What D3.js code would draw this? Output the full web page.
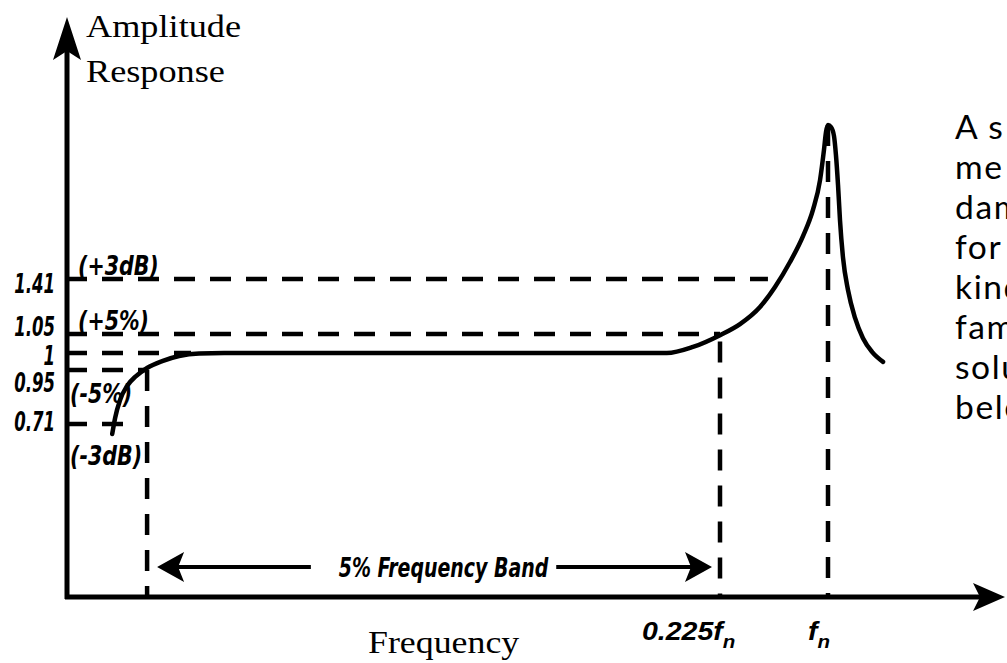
<!DOCTYPE html>
<html>
<head>
    <title>Amplitude Response</title>
    <meta charset="UTF-8">
    <script type="text/javascript" src="https://cdn.jsdelivr.net/npm/d3@7/dist/d3.min.js"></script>
    <style>
        body { margin: 0; background: #fff; }
        svg { display: block; }
        .serif { font-family: "Liberation Serif", "Times New Roman", serif; }
        .cond { font-family: "DejaVu Sans Condensed", "DejaVu Sans", sans-serif; font-weight: bold; font-style: italic; }
        .bold { font-family: "Liberation Sans", Arial, sans-serif; font-weight: bold; font-style: italic; }
        .note { font-family: Lato, "Open Sans", sans-serif; }
    </style>
</head>
<body>
<svg id="chart" width="1007" height="663"></svg>
<script type="text/javascript">

    // response curve, frequency as f/fn and amplitude ratio
    var curveFreq = [0.0159, 0.0169, 0.0186, 0.0210, 0.0241, 0.0279, 0.0331, 0.0389, 0.0458, 0.0544,
                     0.2067, 0.2157, 0.225, 0.3685, 0.512, 0.6197, 0.7273, 0.8206, 0.892, 0.943,
                     0.971, 0.9856, 1.0, 1.0215, 1.043, 1.057, 1.072, 1.086, 1.108, 1.1435,
                     1.194, 1.251, 1.316, 1.395];
    var curveAmp = [0.669, 0.737, 0.817, 0.879, 0.923, 0.956, 0.976, 0.991, 0.9985, 1.0,
                    1.0, 1.016, 1.047, 1.115, 1.227, 1.358, 1.521, 1.691, 1.862, 2.058,
                    2.254, 2.372, 2.418, 2.405, 2.346, 2.222, 2.025, 1.796, 1.547, 1.338,
                    1.155, 1.039, 1.003, 0.974];

    // amplitude levels on the left
    var yTickValues = [1.41, 1.05, 1, 0.95, 0.71];
    var yTickLabels = ["1.41", "1.05", "1", "0.95", "0.71"];
    var levelEnds = [0.569, 0.225, 0.043, 0.0279, 0.020];   // where each dashed level stops

    var levelNotes = ["(+3dB)", "(+5%)", "(-5%)", "(-3dB)"];
    var noteLevels = [1.41, 1.05, 0.95, 0.71];

    // vertical markers
    var markFreq = [0.0279, 0.225, 1];
    var markTop = [0.95, 1.03, 2.418];
    var xTickValues = [0.225, 1];
    var xTickLabels = ["0.225f", "f"];

    var bandLabel = "5% Frequency Band";
    var bandAmp = 0.123;

    var sideText = ["A s", "me", "dam", "for", "kind", "fam", "solu", "belo"];

    var svg = d3.select("#chart");

    // schematic (piecewise) scales
    var x = d3.scaleLinear().domain([0, 0.225, 1]).range([66, 720, 828]);
    var y = d3.scaleLinear().domain([0, 0.71, 0.95, 1, 1.05, 1.41]).range([597, 424, 370, 353, 334, 279]);

    function put(sel, px, py, txt, cls, size, sx, anchor) {
        return sel.append("text")
                .attr("class", cls)
                .attr("transform", "translate(" + px + "," + py + ") scale(" + (sx || 1) + ",1)")
                .attr("font-size", size)
                .attr("text-anchor", anchor || "start")
                .text(txt);
    }

    function arrowHead(sel, px, py, angle, len, half, notch) {
        sel.append("path")
                .attr("d", "M0,0L" + (-len) + "," + (-half) + "L" + (-len + notch) + ",0L" + (-len) + "," + half + "Z")
                .attr("transform", "translate(" + px + "," + py + ") rotate(" + angle + ")")
                .attr("fill", "#000");
    }

    // dashed level lines
    svg.selectAll("line.level")
            .data(yTickValues)
            .enter()
            .append("line")
            .attr("class", "level")
            .attr("x1", x(0))
            .attr("x2", function (d, i) { return x(levelEnds[i]); })
            .attr("y1", function (d) { return y(d); })
            .attr("y2", function (d) { return y(d); })
            .attr("stroke", "#000")
            .attr("stroke-width", 4.5)
            .attr("stroke-dasharray", "21,15");

    // dashed vertical markers
    svg.selectAll("line.mark")
            .data(markFreq)
            .enter()
            .append("line")
            .attr("class", "mark")
            .attr("x1", function (d) { return x(d); })
            .attr("x2", function (d) { return x(d); })
            .attr("y1", function (d, i) { return y(markTop[i]); })
            .attr("y2", y(0))
            .attr("stroke", "#000")
            .attr("stroke-width", 4.5)
            .attr("stroke-dasharray", "21,15");

    // axes
    var x0 = 67, y0 = y(0);
    svg.append("line").attr("x1", x0).attr("x2", x0).attr("y1", y0 + 2).attr("y2", 40)
            .attr("stroke", "#000").attr("stroke-width", 5);
    arrowHead(svg, x0, 17, -90, 43, 14, 9);
    svg.append("line").attr("x1", x0 - 2).attr("x2", 985).attr("y1", y0).attr("y2", y0)
            .attr("stroke", "#000").attr("stroke-width", 5);
    arrowHead(svg, 1005, y0, 0, 32, 14, 7);

    // response curve
    var line = d3.line()
            .x(function (d) { return x(d[0]); })
            .y(function (d) { return y(d[1]); })
            .curve(d3.curveMonotoneX);

    svg.append("path")
            .datum(d3.zip(curveFreq, curveAmp))
            .attr("d", line)
            .attr("fill", "none")
            .attr("stroke", "#000")
            .attr("stroke-width", 4.5)
            .attr("stroke-linecap", "round");

    // tick labels on the left
    var tickDy = [14, 2, 12, 22, 7];
    yTickValues.forEach(function (v, i) {
        put(svg, 55, y(v) + tickDy[i], yTickLabels[i], "cond", 27, 0.68, "end");
    });

    var noteX = [78, 78, 70, 70];
    var noteDy = [-4, -4, 33, 41];
    noteLevels.forEach(function (v, i) {
        put(svg, noteX[i], y(v) + noteDy[i], levelNotes[i], "cond", 26, 0.88);
    });

    // frequency band arrow
    var by = y(bandAmp);
    var bl = x(markFreq[0]) + 10, br = x(markFreq[1]) - 8;
    var tc = (bl + br) / 2 + 9;
    var bandText = put(svg, tc, by + 10, bandLabel, "cond", 27, 0.78, "middle");
    var tw = bandText.node().getComputedTextLength() * 0.78;
    svg.append("line").attr("x1", bl + 15).attr("x2", tc - tw / 2 - 28).attr("y1", by).attr("y2", by)
            .attr("stroke", "#000").attr("stroke-width", 4);
    svg.append("line").attr("x1", tc + tw / 2 + 8).attr("x2", br - 15).attr("y1", by).attr("y2", by)
            .attr("stroke", "#000").attr("stroke-width", 4);
    arrowHead(svg, bl, by, 180, 27, 15, 6);
    arrowHead(svg, br, by, 0, 27, 15, 6);

    // x tick labels
    var xl = [642, 808];
    xTickValues.forEach(function (v, i) {
        var t = put(svg, xl[i], 640, xTickLabels[i], "bold", 25, 1.14);
        t.append("tspan").attr("font-size", 18).attr("dy", 8).text("n");
    });

    // axis titles
    put(svg, 86, 37, "Amplitude", "serif", 31, 1.17);
    put(svg, 86, 82, "Response", "serif", 31, 1.17);
    put(svg, 368, 653, "Frequency", "serif", 32, 1.12);

    // cut-off text on the right
    sideText.forEach(function (s, i) {
        put(svg, 955, 139 + i * 40, s, "note", 32, 1.05).attr("letter-spacing", 1.5);
    });

</script>
</body>
</html>
